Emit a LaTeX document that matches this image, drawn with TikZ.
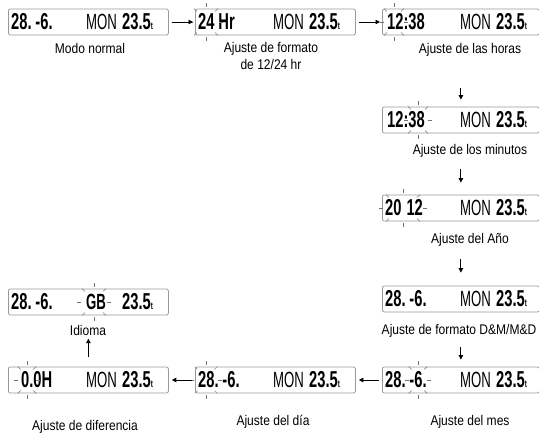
\documentclass[tikz,border=0pt]{standalone}
\usepackage{fontspec}
\setmainfont{Liberation Sans}[FakeStretch=0.86]
\newfontfamily\lcdfont{Liberation Sans}[FakeStretch=0.64]
\newfontfamily\lcdmonfont{Liberation Sans}[FakeStretch=0.6]
\usetikzlibrary{arrows.meta,calc}

% small unit letter after the temperature
\newcommand\tempunit{{\lcdfont\fontsize{10}{10}\selectfont t}}

% one LCD panel: name, left x, centre y, width, left field, left offset, middle field
\newcommand\lcdpanel[7]{%
  \node[lcdbox, minimum width=#4pt, anchor=west] (#1) at (#2,#3) {};
  \node[lcd] (#1-l) at ([xshift=#6pt, yshift=-8pt]#1.west) {#5};
  \node[lcdmon] (#1-m) at ([xshift=78pt, yshift=-8pt]#1.west) {#7};
  \node[lcd] (#1-r) at ([xshift=114pt, yshift=-8pt]#1.west) {23.5\tempunit};
}

% blinking marks round a field: centre x, centre y, x radius, y radius
\newcommand\blinkrays[4]{%
  \foreach \a in {0,45,...,315}
    \draw[ray] (#1,#2) ++(\a:#3 and #4) -- ++(\a:4);
}

\begin{document}
\begin{tikzpicture}[x=1pt,y=-1pt,
  lcdbox/.style={draw=black!40, line width=0.8pt, rounded corners=2pt,
                 minimum height=26pt, inner sep=0},
  lcd/.style={font=\lcdfont\bfseries\fontsize{23}{23}\selectfont,
              inner sep=0, anchor=base west},
  lcdmon/.style={font=\lcdmonfont\fontsize{22}{22}\selectfont,
                 inner sep=0, anchor=base west},
  caption/.style={font=\fontsize{14}{17}\selectfont, inner sep=0,
                  align=center, anchor=north},
  flow/.style={-{Triangle[length=4.5pt,width=4.5pt]}, line width=0.9pt},
  ray/.style={black!55, line width=0.5pt}
]
\useasboundingbox (0,0) rectangle (539,438);

% panels
\lcdpanel{d1}{8}{22}{160}{28.\,-6.}{3}{MON}
\lcdpanel{d2}{195}{22}{160}{24\,Hr}{3}{MON}
\lcdpanel{d3}{382}{22}{157}{12:38}{5}{MON}
\lcdpanel{d4}{382}{120}{157}{12:38}{5}{MON}
\lcdpanel{d5}{382}{208}{157}{20\hspace{5pt}12}{3}{MON}
\lcdpanel{d6}{382}{299}{157}{28.\,-6.}{3}{MON}
\lcdpanel{d7}{382}{380}{157}{28.\,-6.}{3}{MON}
\lcdpanel{d8}{195}{380}{160}{28.\,-6.}{3}{MON}
\lcdpanel{d9}{8}{380}{160}{0.0H}{13}{MON}
\lcdpanel{d10}{8}{302}{160}{28.\,-6.}{3}{\bfseries GB}

% blinking fields
\blinkrays{206}{22}{13}{15}
\blinkrays{394}{22}{10}{15}
\blinkrays{418}{120}{10}{15}
\blinkrays{403}{208}{20}{15}
\blinkrays{418}{380}{9}{15}
\blinkrays{206}{380}{12}{15}
\blinkrays{27}{380}{9}{15}
\blinkrays{94}{302}{13}{15}

% captions
\node[caption] (l1) at (90,43) {Modo normal};
\node[caption] (l2) at (271,42) {Ajuste de formato\\de 12/24 hr};
\node[caption] (l3) at (470,43) {Ajuste de las horas};
\node[caption] (l4) at (470,144) {Ajuste de los minutos};
\node[caption] (l5) at (470,233) {Ajuste del Año};
\node[caption] (l6) at (459,324) {Ajuste de formato D\&M/M\&D};
\node[caption] (l7) at (470,415) {Ajuste del mes};
\node[caption] (l8) at (273,415) {Ajuste del día};
\node[caption] (l9) at (85,420) {Ajuste de diferencia};
\node[caption] (l10) at (88,325) {Idioma};

% flow between settings
\draw[flow, shorten <=3pt, shorten >=2pt] (d1) -- (d2);
\draw[flow, shorten <=3pt, shorten >=2pt] (d2) -- (d3);
\draw[flow, shorten <=32pt, shorten >=7pt] (d4.north |- l3.south) -- (d4.north);
\draw[flow, shorten <=12pt, shorten >=12pt] (d5.north |- l4.south) -- (d5.north);
\draw[flow, shorten <=13pt, shorten >=13pt] (d6.north |- l5.south) -- (d6.north);
\draw[flow, shorten <=10pt, shorten >=7pt] (d7.north |- l6.south) -- (d7.north);
\draw[flow, shorten <=3pt, shorten >=3pt] (d7) -- (d8);
\draw[flow, shorten <=3pt, shorten >=3pt] (d8) -- (d9);
\draw[flow, shorten <=10pt, shorten >=3pt] (d9.north) -- (d9.north |- l10.south);
\end{tikzpicture}
\end{document}
